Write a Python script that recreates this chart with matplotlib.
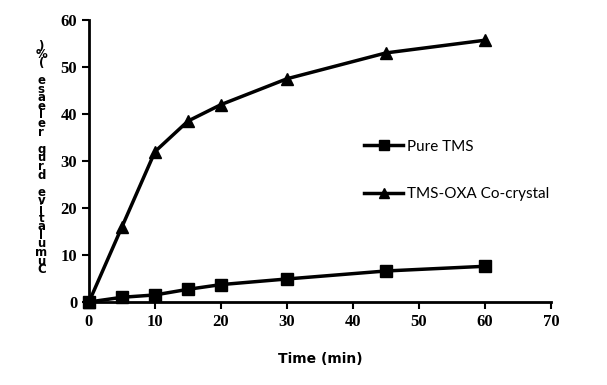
import numpy as np
import matplotlib.pyplot as plt

time = [0, 5, 10, 15, 20, 30, 45, 60]
pure_tms = [0, 1.0, 1.5, 2.7, 3.7, 4.9, 6.6, 7.6]
cocrystal = [0, 16.0, 32.0, 38.5, 42.0, 47.5, 53.0, 55.7]
xticks = [0, 10, 20, 30, 40, 50, 60, 70]
yticks = [0, 10, 20, 30, 40, 50, 60]
ylabel = "Cumulative drug release (%)"

fig = plt.figure(figsize=(6.07, 3.85), dpi=100)
ax = fig.add_axes([0.1466, 0.2156, 0.7611, 0.7324])

ax.plot(time, pure_tms, color='black', lw=2.5, marker='s', ms=8, label='Pure TMS', clip_on=False)
ax.plot(time, cocrystal, color='black', lw=2.5, marker='^', ms=9, label='TMS-OXA Co-crystal', clip_on=False)

ax.set_xlim(0, 70)
ax.set_ylim(0, 60)
ax.set_xticks(xticks)
ax.set_yticks(yticks)
for s in ['top', 'right']:
    ax.spines[s].set_visible(False)
for s in ['left', 'bottom']:
    ax.spines[s].set_linewidth(2)
ax.tick_params(direction='out', width=1.5, length=5)
for lab in ax.get_xticklabels() + ax.get_yticklabels():
    lab.set_fontfamily('Liberation Serif')
    lab.set_fontweight('bold')
    lab.set_fontsize(12)

ax.set_xlabel('Time (min)', fontfamily='Liberation Sans Narrow', fontweight='bold', fontsize=10, labelpad=16)

# stacked (garbled) vertical y label as in the original
fig.text(0.068, 0.59, "\n".join(reversed(ylabel)), ha='center', va='center',
         fontfamily='DejaVu Sans', fontweight='bold', fontsize=8.5, linespacing=0.56)

leg = ax.legend(loc='upper left', bbox_to_anchor=(0.565, 0.625), frameon=False,
                labelspacing=2.2, handlelength=2.6, handletextpad=0.2, markerscale=0.85,
                prop={'family': 'Lato', 'size': 11})

fig.savefig('out.png', dpi=100)
